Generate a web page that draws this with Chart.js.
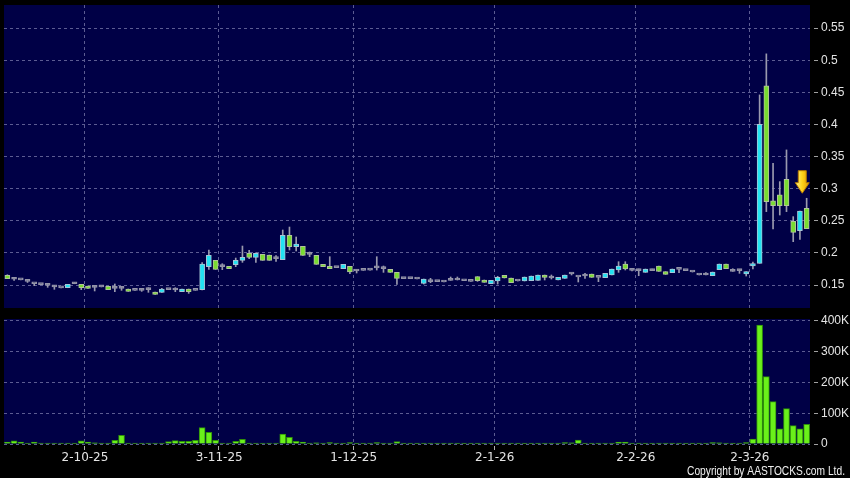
<!DOCTYPE html>
<html>
<head>
<meta charset="utf-8">
<script src="https://cdn.jsdelivr.net/npm/chart.js@4.4.1/dist/chart.umd.min.js"></script>
<style>
  html, body { margin: 0; padding: 0; background: #000; }
  #wrap { position: relative; width: 850px; height: 478px; background: #000; overflow: hidden; }
  #price { position: absolute; left: 0; top: 0; }
  #vol { position: absolute; left: 0; top: 310px; }
</style>
</head>
<body>
<div id="wrap">
  <canvas id="price" width="850" height="310"></canvas>
  <canvas id="vol" width="850" height="168"></canvas>
</div>
<script>
// trading days (D-M-YY)
var days = [
  '15-9-25','16-9-25','17-9-25','18-9-25','19-9-25','22-9-25','23-9-25','24-9-25','25-9-25','26-9-25','29-9-25','30-9-25',
  '2-10-25','3-10-25','6-10-25','8-10-25','9-10-25','10-10-25','13-10-25','14-10-25','15-10-25','16-10-25','17-10-25',
  '20-10-25','21-10-25','22-10-25','23-10-25','24-10-25','27-10-25','28-10-25','30-10-25','31-10-25',
  '3-11-25','4-11-25','5-11-25','6-11-25','7-11-25','10-11-25','11-11-25','12-11-25','13-11-25','14-11-25',
  '17-11-25','18-11-25','19-11-25','20-11-25','21-11-25','24-11-25','25-11-25','26-11-25','27-11-25','28-11-25',
  '1-12-25','2-12-25','3-12-25','4-12-25','5-12-25','8-12-25','9-12-25','10-12-25','11-12-25','12-12-25',
  '15-12-25','16-12-25','17-12-25','18-12-25','19-12-25','22-12-25','23-12-25','24-12-25','29-12-25','30-12-25','31-12-25',
  '2-1-26','5-1-26','6-1-26','7-1-26','8-1-26','9-1-26','12-1-26','13-1-26','14-1-26','15-1-26','16-1-26',
  '19-1-26','20-1-26','21-1-26','22-1-26','23-1-26','26-1-26','27-1-26','28-1-26','29-1-26','30-1-26',
  '2-2-26','3-2-26','4-2-26','5-2-26','6-2-26','9-2-26','10-2-26','11-2-26','12-2-26','13-2-26',
  '16-2-26','20-2-26','23-2-26','24-2-26','25-2-26','26-2-26','27-2-26',
  '2-3-26','3-3-26','4-3-26','5-3-26','6-3-26','9-3-26','10-3-26','11-3-26','12-3-26'
];

var tickDays = ['2-10-25', '3-11-25', '1-12-25', '2-1-26', '2-2-26', '2-3-26'];

var opens = [
  .165,.159,.158,.1557,.152,.1505,.1495,.147,.1455,.1458,
  .152,.151,.1484,.1464,.147,.148,.1448,.1448,.1438,.1417,
  .1417,.1427,.1391,.1386,.1427,.1422,.1396,.1438,.1417,.1427,
  .1786,.1884,.1786,.1791,.1817,.1884,.1993,.1931,.1978,.1967,
  .191,.1895,.2274,.2097,.2102,.1978,.1962,.1822,.1791,.177,
  .1756,.1791,.1718,.1728,.1733,.1768,.1754,.1744,.1697,.1599,
  .1599,.1593,.1526,.1552,.1552,.1547,.1573,.1578,.1567,.1557,
  .163,.1578,.1521,.1562,.1651,.1609,.1562,.1562,.1567,.1573,
  .1656,.1609,.1578,.1604,.1671,.1625,.164,.1671,.1619,.1614,
  .1656,.1734,.1827,.1728,.1723,.1697,.1723,.1793,.1708,.1692,
  .1744,.1723,.1702,.1656,.1656,.1645,.1739,.1827,.1713,.1723,
  .1671,.1796,.1838,.4601,.281,.2903,.3147,.2492,.2347,.2694
];
var highs = [
  .166,.161,.158,.157,.1525,.1505,.1526,.1495,.1455,.151,
  .154,.151,.1484,.1495,.147,.148,.1516,.1474,.1438,.1417,
  .1432,.1458,.1391,.1448,.1427,.1458,.1438,.1438,.1417,.1848,
  .2045,.1884,.1832,.1791,.192,.2107,.204,.2003,.1978,.1967,
  .1957,.2357,.2403,.2248,.2102,.2014,.1962,.1822,.1941,.177,
  .1822,.1791,.1739,.1728,.1733,.1941,.1796,.1744,.1697,.1599,
  .1599,.1593,.1593,.1604,.1552,.1547,.1625,.1625,.1567,.1557,
  .163,.1578,.1573,.1636,.1651,.1609,.1562,.1625,.164,.1656,
  .1656,.1656,.1619,.1656,.1687,.1625,.1682,.1671,.1619,.1682,
  .1749,.1863,.1863,.1739,.1749,.1749,.1749,.1793,.1708,.1749,
  .1744,.1723,.1702,.1656,.1692,.1702,.1827,.1827,.1754,.1744,
  .1708,.1858,.4461,.51,.3396,.311,.3604,.2565,.2653,.2851
];
var lows = [
  .160,.157,.158,.154,.149,.1505,.1464,.1433,.1455,.1458,
  .152,.1427,.1448,.1407,.147,.1427,.1396,.1417,.1401,.1417,
  .1401,.1386,.1355,.1386,.1427,.1396,.1396,.137,.1417,.1422,
  .1744,.1744,.1739,.1754,.1786,.1853,.191,.1853,.1884,.1884,
  .1869,.1895,.2045,.203,.1962,.1941,.1822,.1786,.1755,.177,
  .1756,.1677,.1687,.1728,.1733,.1733,.1697,.1697,.151,.1599,
  .1599,.1593,.1515,.1536,.1552,.1547,.1573,.1578,.1567,.1557,
  .1557,.1542,.1521,.1515,.1609,.1536,.1562,.1562,.1567,.1573,
  .1578,.1593,.1578,.1604,.1656,.1547,.1604,.1619,.1552,.1614,
  .1656,.1697,.1734,.1718,.1645,.1697,.1723,.171,.1666,.1692,
  .1692,.1723,.1702,.1656,.1656,.1645,.1739,.1754,.1713,.1682,
  .164,.1749,.1838,.2643,.2372,.259,.2643,.2175,.2212,.2378
];
var closes = [
  .160,.159,.158,.1557,.152,.1505,.1495,.147,.1455,.151,
  .152,.1458,.1448,.1464,.147,.1427,.1448,.1448,.1401,.1417,
  .1417,.1427,.1355,.1438,.1427,.1422,.1438,.1396,.1417,.1827,
  .1962,.1744,.1786,.1754,.1884,.1931,.1931,.1993,.1884,.1884,
  .191,.2274,.2097,.2139,.1962,.1978,.1822,.1786,.1755,.177,
  .1822,.1703,.1718,.1728,.1733,.1768,.1754,.1697,.1604,.1599,
  .1599,.1593,.1593,.1552,.1552,.1547,.1573,.1578,.1567,.1557,
  .1567,.1542,.1573,.1619,.1609,.1536,.1562,.1625,.164,.1656,
  .1619,.1609,.1619,.1656,.1671,.1625,.164,.1619,.1619,.1682,
  .1749,.1796,.1749,.1728,.1723,.1749,.1723,.171,.1666,.1749,
  .1744,.1723,.1702,.1656,.1656,.1702,.1827,.1754,.1713,.1723,
  .1708,.1832,.4004,.2799,.2736,.2736,.2736,.2321,.2653,.2378
];
// volume in thousands
var volumes = [
  6.5,10,6.5,1,6.5,1,2,2,0.5,0.5,
  1,10,6.5,4,1,0.5,12,28,2,1,
  0.5,3,0.5,0.5,7.5,11,8.5,8.5,12,53,
  38,12,1.5,1.5,8.5,15,2,3,1,1,
  0.5,32.5,21.7,8.7,6.5,1,4,2,5,1,
  0.5,5,1,0.5,1,5,0.5,1,7.5,1,
  0.5,0.5,1,0.5,0.5,0.5,0.5,0.5,0.5,0.5,
  1,0.5,1,0.5,1,3,0.5,1,3,0.5,
  2,0.5,1,5,4,13,1,0.5,2.5,2,
  2,6.5,6.5,0.5,1,0.5,1,0.5,2,0.5,
  0.5,0.5,0.5,0.5,0.5,5,4,0.5,2,0.5,
  5,16,387,219,138,49,115,60,49,64
];

var priceTicks = [0.15, 0.2, 0.25, 0.3, 0.35, 0.4, 0.45, 0.5, 0.55];
var volTicks = [0, 100, 200, 300, 400];
var arrowMark = { day: '11-3-26', price: 0.293 };

var navy = '#000046';
var gridCol = '#5c5c92';
var labelCol = '#e4e4e4';

function candleFill(i) {
  if (closes[i] > opens[i]) return '#22e2f2';
  if (closes[i] < opens[i]) return '#78dc30';
  return '#8e8ea4';
}
function candleEdge(i) {
  if (closes[i] > opens[i]) return '#a6c6d6';
  if (closes[i] < opens[i]) return '#b2c49a';
  return '#9494a8';
}

// navy plot background
var plotBg = {
  id: 'plotBg',
  beforeDraw: function(chart) {
    var a = chart.chartArea, ctx = chart.ctx;
    ctx.save();
    ctx.fillStyle = navy;
    ctx.fillRect(a.left, a.top, a.right - a.left, a.bottom - a.top);
    ctx.restore();
  }
};

function monthGrid(ctx) {
  return tickDays.indexOf(days[ctx.index]) > -1 ? gridCol : 'rgba(0,0,0,0)';
}

// keep the plot box where the reference has it
function fixY(a) {
  a.width = 40;
  a.paddingTop = 0;
  a.paddingBottom = 0;
}

// yellow marker arrow
var arrowPlugin = {
  id: 'arrowMark',
  afterDatasetsDraw: function(chart) {
    var xs = chart.scales.x, ys = chart.scales.y, ctx = chart.ctx;
    var i = days.indexOf(arrowMark.day);
    var tx = xs.getPixelForValue(i) + 0.35 * (xs.getPixelForValue(i + 1) - xs.getPixelForValue(i));
    var ty = ys.getPixelForValue(arrowMark.price);
    ctx.save();
    var g = ctx.createLinearGradient(tx - 7, 0, tx + 7, 0);
    g.addColorStop(0, '#fff48a');
    g.addColorStop(0.5, '#ffd21a');
    g.addColorStop(1, '#e39a00');
    ctx.beginPath();
    ctx.moveTo(tx - 4, ty - 22.5);
    ctx.lineTo(tx + 4, ty - 22.5);
    ctx.lineTo(tx + 4, ty - 10.5);
    ctx.lineTo(tx + 7, ty - 10.5);
    ctx.lineTo(tx, ty);
    ctx.lineTo(tx - 7, ty - 10.5);
    ctx.lineTo(tx - 4, ty - 10.5);
    ctx.closePath();
    ctx.fillStyle = g;
    ctx.fill();
    ctx.strokeStyle = '#b87a00';
    ctx.lineWidth = 1;
    ctx.stroke();
    ctx.restore();
  }
};

var copyright = {
  id: 'copyright',
  afterDraw: function(chart) {
    var ctx = chart.ctx;
    var txt = 'Copyright by AASTOCKS.com Ltd.';
    ctx.save();
    ctx.font = "12px 'Liberation Sans', Arial, sans-serif";
    ctx.fillStyle = '#f0f0f0';
    ctx.textAlign = 'right';
    ctx.textBaseline = 'alphabetic';
    var w = ctx.measureText(txt).width;
    ctx.translate(845, 165);
    ctx.scale(158 / w, 1);
    ctx.fillText(txt, 0, 0);
    ctx.restore();
  }
};

var tickFont = { family: "'Liberation Sans', Arial, sans-serif", size: 12 };

new Chart(document.getElementById('price'), {
  type: 'bar',
  data: {
    labels: days,
    datasets: [{
      label: 'range',
      data: lows.map(function(l, i) { return [l, highs[i]]; }),
      backgroundColor: '#9a9aae',
      borderWidth: 0,
      barThickness: 1,
      grouped: false,
      order: 2
    }, {
      label: 'body',
      data: opens.map(function(o, i) { return [o, closes[i]]; }),
      backgroundColor: opens.map(function(o, i) { return candleFill(i); }),
      borderColor: opens.map(function(o, i) { return candleEdge(i); }),
      borderWidth: 1,
      borderSkipped: false,
      barThickness: 5,
      minBarLength: 2,
      grouped: false,
      order: 1
    }]
  },
  options: {
    responsive: false,
    animation: false,
    events: [],
    layout: { padding: { left: 4, top: 5, bottom: 2, right: 0 } },
    plugins: { legend: { display: false }, tooltip: { enabled: false } },
    scales: {
      x: {
        type: 'category',
        offset: true,
        grid: { offset: true, color: monthGrid, drawTicks: false },
        border: { display: false, dash: [3, 3] },
        ticks: { display: false, autoSkip: false },
        afterFit: function(a) { a.height = 0; a.paddingLeft = 0; a.paddingRight = 0; }
      },
      y: {
        position: 'right',
        min: 0.1142,
        max: 0.5861,
        afterBuildTicks: function(a) { a.ticks = priceTicks.map(function(v) { return { value: v }; }); },
        afterFit: fixY,
        ticks: {
          color: labelCol,
          font: tickFont,
          padding: 3,
          callback: function(v) { return String(+v.toFixed(2)); }
        },
        grid: { color: gridCol, tickLength: 8, tickColor: '#a0a0a0', tickBorderDash: [0, 4, 4, 40] },
        border: { display: false, dash: [3, 3] }
      }
    }
  },
  plugins: [plotBg, arrowPlugin]
});

new Chart(document.getElementById('vol'), {
  type: 'bar',
  data: {
    labels: days,
    datasets: [{
      label: 'volume',
      data: volumes,
      backgroundColor: '#6af01a',
      borderColor: '#2f900a',
      borderWidth: 1,
      barThickness: 6,
      minBarLength: 1
    }]
  },
  options: {
    responsive: false,
    animation: false,
    events: [],
    layout: { padding: { left: 4, top: 9, right: 0, bottom: 0 } },
    plugins: { legend: { display: false }, tooltip: { enabled: false } },
    scales: {
      x: {
        type: 'category',
        offset: true,
        grid: { offset: true, color: monthGrid, tickColor: function(ctx) { return tickDays.indexOf(days[ctx.index]) > -1 ? '#b0b0b0' : 'rgba(0,0,0,0)'; }, tickLength: 6, tickBorderDash: [0, 2, 4, 40] },
        border: { display: false, dash: [3, 3] },
        ticks: {
          autoSkip: false,
          maxRotation: 0,
          padding: 1,
          labelOffset: -3,
          color: labelCol,
          font: { family: "'DejaVu Sans', sans-serif", size: 12 },
          callback: function(v, i) { return tickDays.indexOf(days[i]) > -1 ? days[i] : ''; }
        },
        afterFit: function(a) { a.height = 34; a.paddingLeft = 0; a.paddingRight = 0; }
      },
      y: {
        position: 'right',
        min: 0,
        max: 406.5,
        afterBuildTicks: function(a) { a.ticks = volTicks.map(function(v) { return { value: v }; }); },
        afterFit: fixY,
        ticks: {
          color: labelCol,
          font: tickFont,
          padding: 3,
          callback: function(v) { return v === 0 ? '0' : v + 'K'; }
        },
        grid: { color: gridCol, tickLength: 8, tickColor: '#a0a0a0', tickBorderDash: [0, 4, 4, 40] },
        border: { display: false, dash: [3, 3] }
      }
    }
  },
  plugins: [plotBg, copyright]
});
</script>
</body>
</html>
